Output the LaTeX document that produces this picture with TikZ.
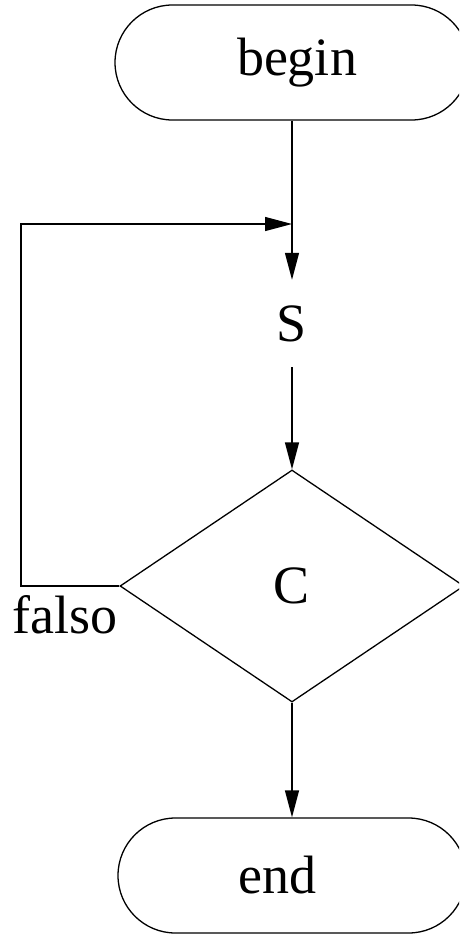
\documentclass[tikz,border=0pt]{standalone}
\usepackage{fontspec}
\setmainfont{Liberation Serif}
\usetikzlibrary{arrows.meta,shapes.misc,shapes.geometric}
\begin{document}
\begin{tikzpicture}[x=1pt,y=-1pt,
  every node/.style={font=\fontsize{54}{60}\selectfont},
  term/.style={rounded rectangle,draw,line width=1.3pt,inner sep=0pt},
  dec/.style={diamond,draw,line width=1.3pt,inner sep=0pt,minimum width=344pt,minimum height=232pt},
  conn/.style={line width=1.3pt,-{Triangle[length=27pt,width=14pt]}}]
\useasboundingbox (0,0) rectangle (459,934);
\clip (0,0) rectangle (459,934);
\node[term,minimum width=354pt,minimum height=115pt] (begin) at (292,62.5) {\hspace*{10pt}begin};
\node[inner sep=0pt,minimum height=87pt] (S) at (292,323.5) {S};
\node[dec] (C) at (292,586) {C};
\node[term,minimum width=348pt,minimum height=115pt] (end) at (292,875.5) {end\hspace*{29pt}};
\coordinate (m) at (292,224);
\coordinate (lc) at (21,586);
\node[anchor=base west,inner sep=0pt] (falso) at (12,633) {falso};
\draw[conn] (begin.south) -- (S.north);
\draw[conn] (S.south) -- (C.north);
\draw[conn] (C.south) -- (end.north);
\draw[conn] (C.west) -- (lc) |- (m);
\end{tikzpicture}
\end{document}
